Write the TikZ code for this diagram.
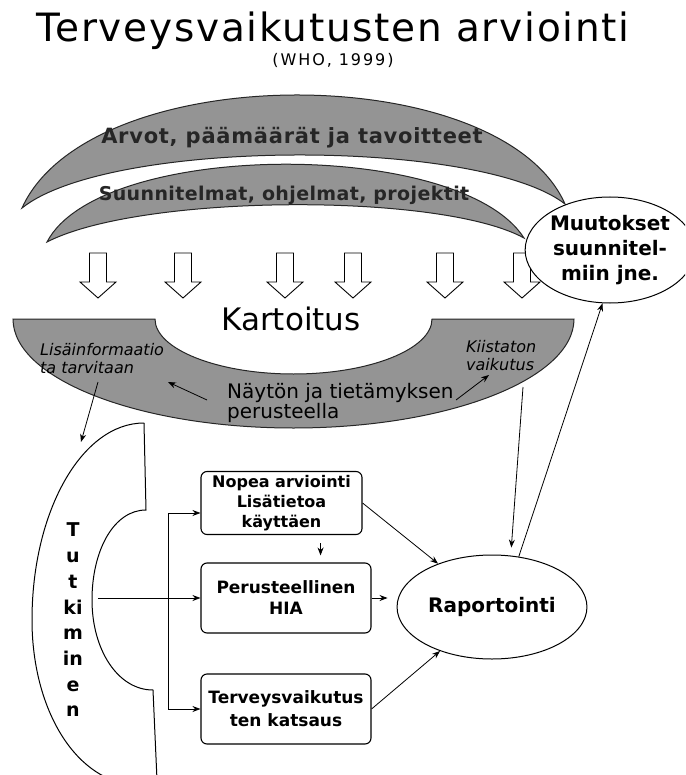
\documentclass[tikz,border=0pt]{standalone}
\usepackage{fontspec}
\setmainfont{DejaVu Sans}
\usepackage{tikz}
\usetikzlibrary{shapes.geometric,arrows.meta,positioning}

\begin{document}
\begin{tikzpicture}[x=1pt, y=-1pt,
  band/.style={draw=black!85, line width=1pt, fill=black!42},
  bandtext/.style={font=\fontsize{21}{21}\selectfont\bfseries\addfontfeature{LetterSpace=3.5}, text=black!85},
  method/.style={draw, rounded corners=6pt, line width=1.1pt, align=center,
    minimum width=161pt, minimum height=63pt, inner sep=2pt,
    font=\fontsize{16}{20}\selectfont\bfseries},
  hollow/.style={draw, line width=0.9pt, fill=white},
  note/.style={font=\fontsize{16}{18}\selectfont\itshape, align=left, inner sep=0pt},
  link/.style={line width=0.8pt},
  >={Stealth[length=8pt]},
  ]
  \useasboundingbox (0,0) rectangle (685,775);
  \clip (0,0) rectangle (685,775);
  \fill[white] (0,0) rectangle (685,775);

  % Otsikko
  \node[anchor=base, font=\fontsize{39}{39}\selectfont\addfontfeature{LetterSpace=4.5}] (title) at (333,42)
    {Terveysvaikutusten arviointi};
  \node[anchor=base, font=\fontsize{16}{16}\selectfont\addfontfeature{LetterSpace=12}] (who) at (333,66)
    {(WHO, 1999)};

  % Kaaret
  \draw[band] (22,208) .. controls (90,58) and (500,58) .. (565,204)
              .. controls (480,138) and (110,138) .. (22,208) -- cycle;
  \node[bandtext] (arvot) at (292,138) {Arvot, päämäärät ja tavoitteet};
  \draw[band] (47,242) .. controls (100,140) and (460,138) .. (524,238)
              .. controls (440,192) and (140,194) .. (47,242) -- cycle;
  \node[bandtext, font=\fontsize{19}{19}\selectfont\bfseries\addfontfeature{LetterSpace=2}] (suunn) at (284,195)
    {Suunnitelmat, ohjelmat, projektit};

  % Nuolet alas
  \foreach \ax in {98,183,285,353,445,522}
    \draw[hollow] (\ax-8.5,253) -- (\ax+8.5,253) -- (\ax+8.5,282) -- (\ax+18,282)
                  -- (\ax,298) -- (\ax-18,282) -- (\ax-8.5,282) -- cycle;

  \node[ellipse, draw, fill=white, line width=1pt, minimum width=156pt, minimum height=106pt,
        align=center, inner sep=0pt, font=\fontsize{20}{25}\selectfont\bfseries]
        (muutokset) at (610,250) {Muutokset\\suunnitel-\\miin jne.};

  % Kartoitus
  \draw[band] (13,319) -- (155,319)
    .. controls (155,349) and (217,374) .. (293.5,374)
    .. controls (370,374) and (432,349) .. (432,319) -- (574,319)
    .. controls (574,379) and (448,428) .. (293.5,428)
    .. controls (139,428) and (13,379) .. (13,319) -- cycle;
  \node[font=\fontsize{31}{31}\selectfont] (kartoitus) at (291,319) {Kartoitus};
  \node[note, anchor=west] (lisa) at (40,359) {Lisäinformaatio\\ta tarvitaan};
  \node[note, anchor=west] (kiist) at (466,356) {Kiistaton\\vaikutus};
  \node[anchor=west, align=left, inner sep=0pt, font=\fontsize{20}{20}\selectfont] (naytto) at (227,403)
    {Näytön ja tietämyksen\\perusteella};
  \coordinate (naytto-l) at (207,400);
  \coordinate (lisa-pt) at (168,382);
  \coordinate (naytto-r) at (456,400);
  \coordinate (kiist-pt) at (489,375);
  \draw[link, ->] (naytto-l) -- (lisa-pt);
  \draw[link, ->] (naytto-r) -- (kiist-pt);

  % Tutkiminen
  \draw[line width=1pt] (144,423) .. controls (82,423) and (32,511) .. (32,620)
    .. controls (32,705) and (72,778) .. (132,785);
  \draw[line width=1pt] (144,423) -- (146,510)
    .. controls (114,510) and (92,550) .. (92,600)
    .. controls (92,650) and (118,690) .. (153,690) -- (157,780);
  \node[align=center, inner sep=0pt, font=\fontsize{19}{25.7}\selectfont\bfseries] (tutk) at (73,620)
    {T\\u\\t\\ki\\m\\in\\e\\n};

  % Menetelmät
  \node[method] (nopea) at (281.5,503) {Nopea arviointi\\Lisätietoa\\käyttäen};
  \node[method, minimum width=170pt, minimum height=70pt, font=\fontsize{17}{21}\selectfont\bfseries]
    (perus) at (286,598) {Perusteellinen\\HIA};
  \node[method, minimum width=170pt, minimum height=70pt, font=\fontsize{17}{23}\selectfont\bfseries]
    (terv) at (286,709) {Terveysvaikutus\\ten katsaus};
  \node[ellipse, draw, line width=1pt, minimum width=160pt, minimum height=104pt,
        font=\fontsize{20}{20}\selectfont\bfseries] (rap) at (492,607) {Raportointi};

  % Yhteydet
  \coordinate (lisa-out) at (98,382);
  \coordinate (tutk-top) at (81,442);
  \draw[link, ->] (lisa-out) -- (tutk-top);
  \coordinate (tutk-in) at (98,598);
  \draw[link, ->] (tutk-in) -- (perus.west);
  \coordinate (split-top) at (168,513);
  \coordinate (split-bot) at (168,709);
  \draw[link] (split-top) -- (split-bot);
  \draw[link, ->] (split-top) -- (split-top -| nopea.west);
  \draw[link, ->] (split-bot) -- (split-bot -| terv.west);
  \draw[link, ->, shorten <=8pt, shorten >=7pt] ([xshift=-42pt]nopea.south east)
    -- ([xshift=-42pt]nopea.south east |- perus.north);
  \draw[link, ->, shorten >=9pt] (perus.east) -- (perus.east -| rap.west);
  \draw[link, ->] (nopea.east) -- (rap);
  \draw[link, ->] (terv.east) -- (rap);
  \coordinate (kiist-out) at (523,387);
  \draw[link, ->, shorten >=8pt] (kiist-out) -- (rap.70);
  \draw[link, ->] (rap.62) -- (muutokset.262);
\end{tikzpicture}
\end{document}
